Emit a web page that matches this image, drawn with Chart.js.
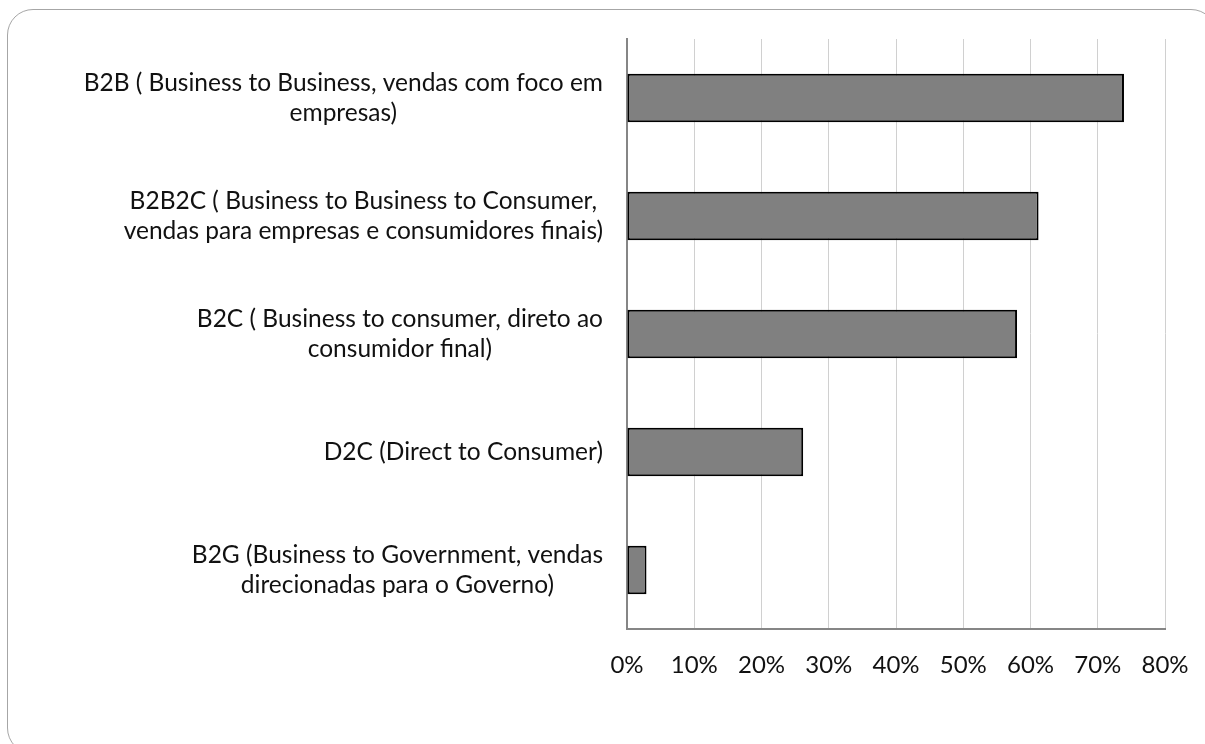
<!DOCTYPE html>
<html>
<head>
<meta charset="utf-8">
<script src="https://cdn.jsdelivr.net/npm/chart.js@4"></script>
<style>
  html, body { margin: 0; padding: 0; background: #ffffff; overflow: hidden; }
  #wrap { position: relative; width: 1205px; height: 744px; overflow: hidden; }
  #frame {
    position: absolute; left: 7px; top: 9px; width: 1210px; height: 745px;
    border: 1.5px solid #a6a6a6; border-radius: 26px; box-sizing: border-box;
  }
  #chart { position: absolute; left: 0; top: 0; }
</style>
</head>
<body>
<div id="wrap">
  <div id="frame"></div>
  <canvas id="chart" width="1205" height="744"></canvas>
</div>
<script>
// Sales models (each entry is a list of label lines)
const categories = [
  ["B2B ( Business to Business, vendas com foco em", "empresas)"],
  ["B2B2C ( Business to Business to Consumer,", "vendas para empresas e consumidores finais)"],
  ["B2C ( Business to consumer, direto ao", "consumidor final)"],
  ["D2C (Direct to Consumer)"],
  ["B2G (Business to Government, vendas", "direcionadas para o Governo)"]
];

// Share of respondents per model, in percent
const shares = [73.9, 61.2, 58.0, 26.2, 2.9];

// Horizontal axis ticks, in percent
const tickValues = [0, 10, 20, 30, 40, 50, 60, 70, 80];

const FONT_FAMILY = "Lato, 'Open Sans', sans-serif";
const LABEL_SIZE = 24.5;
const TICK_SIZE = 24;
const LINE_GAP = 30;

// Plot area edges on the canvas
const PLOT_LEFT = 627;
const PLOT_RIGHT = 1165;
const PLOT_TOP = 39;
const PLOT_BOTTOM = 629;

// Category labels: each block is right-aligned against the axis, its lines centred
const categoryLabels = {
  id: 'categoryLabels',
  afterDraw(chart) {
    const ctx = chart.ctx;
    const yScale = chart.scales.y;
    const rightEdge = chart.chartArea.left - 24;
    ctx.save();
    ctx.font = LABEL_SIZE + 'px ' + FONT_FAMILY;
    ctx.fillStyle = '#111111';
    ctx.textAlign = 'center';
    ctx.textBaseline = 'middle';
    categories.forEach((lines, i) => {
      const yc = yScale.getPixelForValue(i);
      const w = Math.max(...lines.map(l => ctx.measureText(l).width));
      const cx = rightEdge - w / 2;
      const y0 = yc - (lines.length - 1) * LINE_GAP / 2;
      lines.forEach((line, k) => ctx.fillText(line, cx, y0 + k * LINE_GAP));
    });
    ctx.restore();
  }
};

new Chart(document.getElementById('chart'), {
  type: 'bar',
  data: {
    labels: categories.map(c => c.join(' ')),
    datasets: [{
      data: shares,
      backgroundColor: '#808080',
      borderColor: '#000000',
      borderWidth: 2,
      borderSkipped: false,
      barPercentage: 0.41,
      categoryPercentage: 1.0
    }]
  },
  options: {
    indexAxis: 'y',
    responsive: false,
    animation: false,
    devicePixelRatio: 1,
    layout: { padding: { top: PLOT_TOP, right: 1205 - PLOT_RIGHT, left: 0, bottom: 0 } },
    plugins: { legend: { display: false }, tooltip: { enabled: false } },
    scales: {
      x: {
        min: tickValues[0],
        max: tickValues[tickValues.length - 1],
        afterBuildTicks(scale) { scale.ticks = tickValues.map(v => ({ value: v })); },
        afterFit(scale) {
          scale.height = 744 - PLOT_BOTTOM;
          // the end labels fit inside the outer margin already
          scale.paddingLeft = 0;
          scale.paddingRight = 0;
        },
        grid: { color: '#d0d0d0', lineWidth: 1, drawTicks: false },
        border: { color: '#868686', width: 2 },
        ticks: {
          padding: 22,
          color: '#111111',
          font: { family: FONT_FAMILY, size: TICK_SIZE },
          callback: v => v + '%'
        }
      },
      y: {
        afterFit(scale) { scale.width = PLOT_LEFT; },
        grid: { display: false, drawTicks: false },
        border: { color: '#868686', width: 2 },
        ticks: { display: false }
      }
    }
  },
  plugins: [categoryLabels]
});
</script>
</body>
</html>
